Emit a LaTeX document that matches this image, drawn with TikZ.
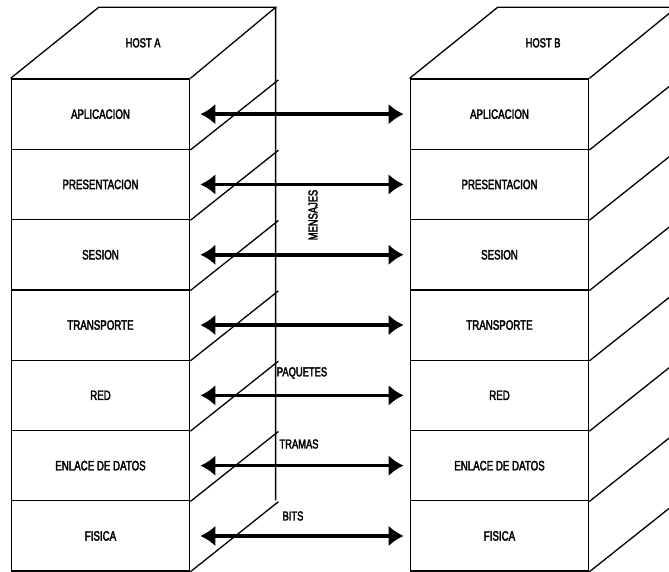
\documentclass[tikz,border=0pt]{standalone}
\usepackage{fontspec}
\usetikzlibrary{arrows.meta,calc}
\newfontfamily\layerfont[FakeStretch=0.72,FakeBold=2.5]{Liberation Sans}
\tikzset{
  layer/.style={draw,line width=1.3pt,minimum width=178.5pt,minimum height=70.3pt,inner sep=0pt,
    font=\layerfont\fontsize{13.5}{13.5}\selectfont},
  layer side/.style={line width=1.3pt},
  pdu arrow/.style={{Latex[length=15pt,width=21pt]}-{Latex[length=15pt,width=21pt]},
    line width=3.5pt,shorten <=10pt,shorten >=6pt},
  pdu label/.style={font=\layerfont\fontsize{13}{13}\selectfont,inner sep=1pt},
}
\begin{document}
\begin{tikzpicture}[x=1pt,y=-1pt]
\useasboundingbox (0,0) rectangle (669,572);
\clip (0,0) rectangle (669,572);
\foreach \name [count=\i] in {APLICACION,PRESENTACION,SESION,TRANSPORTE,RED,ENLACE DE DATOS,FISICA}{
  \node[layer] (a\i) at (100.5,{79+70.3*(\i-0.5)}) {\name};
  \node[layer] (b\i) at (499.5,{79+70.3*(\i-0.5)}) {\name};
  \draw[layer side] (a\i.south east) -- ++(88,-70);
  \draw[layer side] (b\i.south east) -- ++(88,-70);
}
\draw[layer side] (a1.north west) -- ++(88,-71) coordinate (a back) -- ++(177,0) coordinate (a corner)
  -- (a1.north east) (a corner) -- ++(0,493);
\draw[layer side] (b1.north west) -- ++(88,-71) coordinate (b back) -- ++(179,0) coordinate (b corner)
  -- (b1.north east) (b corner) -- ++(0,493);
\node[pdu label] (hosta) at ($(a1.north west)!0.5!(a corner)$) {HOST A};
\node[pdu label] (hostb) at ($(b1.north west)!0.5!(b corner)$) {HOST B};
\foreach \i in {1,...,7}
  \draw[pdu arrow] (a\i.east) -- (b\i.west);
\node[pdu label,rotate=90] (mensajes) at (313,215) {MENSAJES};
\node[pdu label] (paquetes) at (302,373) {PAQUETES};
\node[pdu label] (tramas) at (299,444) {TRAMAS};
\node[pdu label] (bits) at (293,516) {BITS};
\end{tikzpicture}
\end{document}
